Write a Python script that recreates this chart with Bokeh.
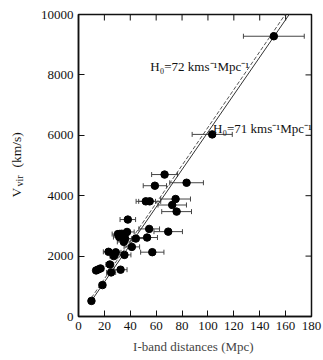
import math
from bokeh.plotting import figure
from bokeh.models import (ColumnDataSource, Whisker, TeeHead, LinearAxis, Label,
                          FixedTicker, Range1d)
from bokeh.embed import file_html
from bokeh.resources import INLINE

# ---- data ----
dist = [10, 18.5, 13.6, 15.2, 17, 25.2, 32.5, 24.2, 23.2, 28.8, 27.3, 35.5,
        57, 41.2, 44.3, 30.5, 33.5, 37.5, 31.5, 36, 35, 53, 54.6, 69.3, 38.1,
        52, 55, 75, 72.4, 75.8, 59, 83.5, 66.5, 103.3, 150.9]
vvir = [516, 1040, 1525, 1555, 1590, 1460, 1550, 1722, 2142, 2125, 2000, 2040,
        2130, 2305, 2580, 2730, 2740, 2800, 2630, 2575, 2470, 2615, 2900, 2810, 3210,
        3813, 3813, 3890, 3692, 3473, 4330, 4429, 4700, 6030, 9280]
derr = [1.5, 2.5, 2, 2, 2.5, 3.5, 5, 3, 4, 4, 3, 5,
        9, 6, 7, 4.5, 5, 5.5, 4.5, 5, 5, 8, 8, 11, 6,
        7.5, 8.5, 11.5, 11, 11.5, 9, 13, 10, 15.5, 23.5]

line71_d = [10, 166]
line71_v = [520, 10200]
line72_d = [10, 163]
line72_v = [620, 10210]

x_ticks = [0, 20, 40, 60, 80, 100, 120, 140, 160, 180]
y_ticks = [0, 2000, 4000, 6000, 8000, 10000]
X_MAX = 180
Y_MAX = 10000

FONT = "Liberation Serif"
INK = "#111111"
NB = "\u00a0"

src = ColumnDataSource(dict(
    d=dist, v=vvir,
    lo=[a - b for a, b in zip(dist, derr)],
    hi=[a + b for a, b in zip(dist, derr)],
))

p = figure(width=323, height=360, output_backend="svg", toolbar_location=None,
           x_range=Range1d(0, X_MAX), y_range=Range1d(0, Y_MAX),
           min_border_left=78, min_border_right=12, min_border_top=14,
           min_border_bottom=44, x_axis_location=None, y_axis_location=None)
p.background_fill_color = "white"
p.border_fill_color = "white"
p.grid.visible = False
p.outline_line_color = INK
p.outline_line_width = 1.5

def style_axis(ax):
    ax.major_tick_in = 6
    ax.major_tick_out = 0
    ax.minor_tick_line_color = None
    ax.axis_line_color = INK
    ax.axis_line_width = 1.5
    ax.major_tick_line_color = INK
    ax.major_label_text_font = FONT
    ax.major_label_text_font_size = "13px"
    ax.major_label_text_color = INK
    ax.major_label_standoff = 5

xb = LinearAxis(ticker=FixedTicker(ticks=x_ticks))
style_axis(xb)
xb.axis_label = "I-band distances  (Mpc)"
xb.axis_label_text_font = FONT
xb.axis_label_text_font_style = "normal"
xb.axis_label_text_font_size = "13px"
xb.axis_label_standoff = 6
p.add_layout(xb, "below")

yl = LinearAxis(ticker=FixedTicker(ticks=y_ticks))
style_axis(yl)
p.add_layout(yl, "left")

# inward ticks on top and right edges
p.ray(x=x_ticks, y=[Y_MAX] * len(x_ticks), length=6, length_units="screen",
      angle=-math.pi / 2, line_color=INK, line_width=1)
p.ray(x=[X_MAX] * len(y_ticks), y=y_ticks, length=6, length_units="screen",
      angle=math.pi, line_color=INK, line_width=1)

# y axis label, composed (placed in the left side panels)
lab = dict(x_units="screen", y_units="screen", angle=math.pi / 2, text_font=FONT,
           text_color=INK, text_align="left", text_baseline="alphabetic")
p.add_layout(Label(x=-6, y=119, text="V" + NB * 6 + "(km/s)",
                   text_font_size="13.5px", **lab), "left")
p.add_layout(Label(x=7.5, y=130, text="vir", text_font_size="10px", **lab), "left")

# lines
p.line(line71_d, line71_v, line_color="#333333", line_width=1)
p.line(line72_d, line72_v, line_color="#555555", line_width=1, line_dash="4 2")

# error bars
p.add_layout(Whisker(source=src, base="v", lower="lo", upper="hi", dimension="width",
                     line_color="#444444", line_width=1,
                     lower_head=TeeHead(size=5, line_color="#444444", line_width=1),
                     upper_head=TeeHead(size=5, line_color="#444444", line_width=1)))
p.scatter("d", "v", source=src, size=7.5, fill_color="black", line_color="black")

p.add_layout(Label(x=55.5, y=8280, text="H₀=72 kms⁻¹Mpc⁻¹", text_font=FONT,
                   text_font_size="13px", text_color=INK, text_baseline="middle"))
p.add_layout(Label(x=104, y=6240, text="H₀=71 kms⁻¹Mpc⁻¹", text_font=FONT,
                   text_font_size="13px", text_color=INK, text_baseline="middle"))

open("out.html", "w").write(file_html(p, INLINE))
